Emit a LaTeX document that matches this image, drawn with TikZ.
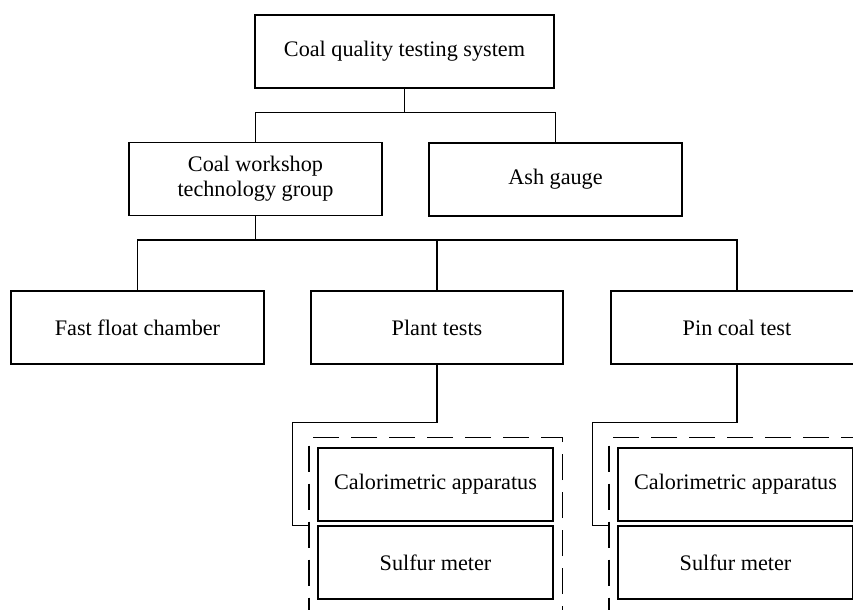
\documentclass[tikz,border=0pt]{standalone}
\usepackage{fontspec}
\setmainfont{Liberation Serif}
\usetikzlibrary{positioning}
\usetikzlibrary{calc}
\tikzstyle{block}=[draw,line width=0.6pt,inner sep=0pt,align=center,minimum height=36.5pt,font=\fontsize{11.1}{12.5}\selectfont]
\tikzstyle{group}=[draw,line width=0.6pt,dash pattern=on 13pt off 6pt,inner sep=0pt]
\tikzstyle{link} = [draw,line width=0.6pt]

\begin{document}
\begin{tikzpicture}[x=0.5pt,y=-0.5pt]

  \useasboundingbox (0,0) rectangle (853,610);
  \clip (0,0) rectangle (853,610);

  \foreach \x/\y/\w/\name/\label in {404.5/51.5/299/sys/{Coal quality testing system}, 255.5/179/253/cwg/{Coal workshop\\technology group}, 555.5/179.5/253/ash/{Ash gauge}}
          \node[block, minimum width=\w*0.5pt] (\name) at (\x,\y) {\label};

  \foreach \x/\y/\w/\name/\label in {137.5/327.5/253/ffc/{Fast float chamber}, 437/327.5/252/plt/{Plant tests}, 737/327.5/252/pin/{Pin coal test}}
          \node[block, minimum width=\w*0.5pt] (\name) at (\x,\y) {\label};

  % instrument groups
  \foreach \x/\name in {435.5/1, 735.5/2} {
          \node[block, minimum width=117.5pt] (cal\name) at (\x,484.5) {Calorimetric apparatus};
          \node[block, minimum width=117.5pt] (sul\name) at (\x,562.5) {Sulfur meter};
          \node[group, minimum width=126.75pt, minimum height=122.5pt] (grp\name) at (\x+0.25,560) {};
          \coordinate (in\name) at (grp\name.west |- sul\name.north);
  }

  \foreach \dest in {cwg, ash}
         \path[link] (sys.south) -- ++(0,24) -| (\dest.north);

  \foreach \dest in {ffc, plt, pin}
         \path[link] (cwg.south) -- ++(0,24) -| (\dest.north);

  \foreach \source/\name in {plt/1, pin/2}
         \path[link] (\source.south) -- ++(0,58) -| ([xshift=-8pt]in\name) -- (in\name);

\end{tikzpicture}
\end{document}
